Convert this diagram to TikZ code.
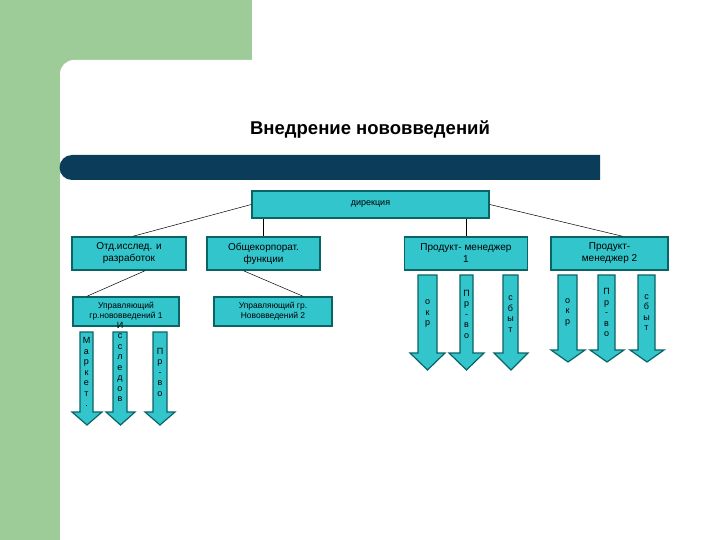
\documentclass[tikz,border=0pt]{standalone}
\usepackage{fontspec}
\setmainfont{Liberation Sans}
\definecolor{bggreen}{HTML}{9DCC98}
\definecolor{navy}{HTML}{0B3D5A}
\definecolor{teal1}{HTML}{33C5CC}
\definecolor{tealb}{HTML}{0A6466}
\newcommand\myarr[8]{%
 \draw[arr] (#1,#5) -- (#2,#5) -- (#2,#6) -- (#4,#6) -- ({(#3+#4)/2},#7) -- (#3,#6) -- (#1,#6) -- cycle;
 \node[atext] at ({(#1+#2)/2},{(#5+#6)/2}) {#8};}
\begin{document}
\begin{tikzpicture}[x=1pt,y=-1pt,
 box/.style={draw=tealb,line width=1.5pt,fill=teal1,align=center,inner sep=0pt,font=\fontsize{10}{12}\selectfont},
 arr/.style={draw=tealb,line width=1.2pt,fill=teal1},
 atext/.style={align=center,font=\fontsize{9}{10.5}\selectfont},
 con/.style={draw=black,line width=0.5pt}]
\useasboundingbox (0,0) rectangle (720,540);
\fill[bggreen] (0,0) rectangle (252,540);
\fill[white,rounded corners=14pt] (60,60) rectangle (740,560);
\fill[white] (252,0) rectangle (720,60);
\fill[white] (100,100) rectangle (720,540);
\fill[navy] (600,155) -- (72,155) arc[start angle=90,end angle=270,radius=12.5pt] -- (600,180) -- cycle;
\node[font=\bfseries\fontsize{18.5}{21}\selectfont] (title) at (370,130) {Внедрение нововведений};
\node[box,minimum width=237pt,minimum height=27pt,font=\fontsize{9}{11}\selectfont] (dir) at (370.5,204.5) {дирекция};
\node[box,minimum width=114pt,minimum height=33pt] (b1) at (129,253.5) {Отд.исслед. и\\разработок};
\node[box,minimum width=113pt,minimum height=33pt] (b2) at (263.5,253.5) {Общекорпорат.\\функции};
\node[box,minimum width=123pt,minimum height=33pt] (b3) at (466,253.5) {Продукт- менеджер\\1};
\node[box,minimum width=117pt,minimum height=33pt] (b4) at (609.5,253.5) {Продукт-\\менеджер 2};
\node[box,minimum width=106pt,minimum height=29pt,font=\fontsize{8.5}{10}\selectfont] (u1) at (126,311.5) {Управляющий\\гр.нововведений 1};
\node[box,minimum width=118pt,minimum height=29pt,font=\fontsize{8.5}{10}\selectfont] (u2) at (273,311.5) {Управляющий гр.\\Нововведений 2};
\draw[con] (dir.west) -- ([xshift=4pt]b1.north);
\draw[con] (dir.south -| b2.north) -- (b2.north);
\draw[con] (dir.south -| b3.north) -- (b3.north);
\draw[con] (dir.east) -- ([xshift=13pt]b4.north);
\draw[con] ([xshift=16pt]b1.south) -- ([xshift=-39pt]u1.north);
\draw[con] ([xshift=-20pt]b2.south) -- ([xshift=30pt]u2.north);
\myarr{80}{93}{72}{102}{332}{412}{425}{М\\а\\р\\к\\е\\т\\.}
\myarr{113}{127}{106}{135}{332}{412}{425}{}
\node[atext] at (120,362) {И\\с\\с\\л\\е\\д\\о\\в};
\myarr{153}{167}{145}{175}{332}{412}{425}{П\\р\\-\\в\\о}
\myarr{418}{437}{410}{445}{275}{353}{370}{о\\к\\р}
\myarr{460}{473}{449}{484}{275}{353}{370}{П\\р\\-\\в\\о}
\myarr{503}{518}{494}{528}{275}{353}{370}{с\\б\\ы\\т}
\myarr{558}{577}{551}{585}{275}{350}{362}{о\\к\\р}
\myarr{598}{615}{590}{624}{275}{350}{362}{П\\р\\-\\в\\о}
\myarr{638}{655}{630}{664}{275}{350}{362}{с\\б\\ы\\т}
\end{tikzpicture}
\end{document}
